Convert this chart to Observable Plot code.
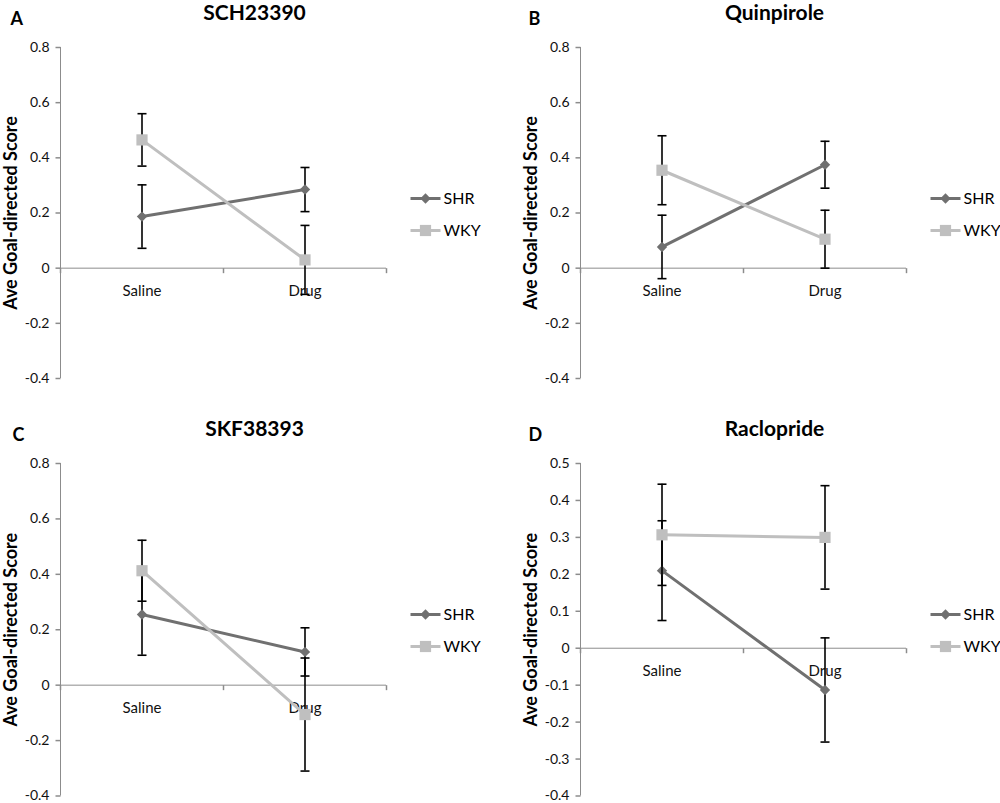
<!DOCTYPE html>
<html>
<head>
<meta charset="utf-8">
<script src="https://cdn.jsdelivr.net/npm/d3@7"></script>
<script src="https://cdn.jsdelivr.net/npm/@observablehq/plot@0.6"></script>
<style>
  html, body { margin: 0; padding: 0; background: #fff; }
  #root { position: relative; width: 1000px; height: 803px; overflow: hidden; background: #fff; }
  .panel { position: absolute; }
</style>
</head>
<body>
<div id="root"></div>
<script>
// ---- data ----
const conditions = ["Saline", "Drug"];
const seriesNames = ["SHR", "WKY"];
const letters = ["A", "B", "C", "D"];
const drugs = ["SCH23390", "Quinpirole", "SKF38393", "Raclopride"];
const shrMean = [[0.187, 0.285], [0.077, 0.375], [0.255, 0.120], [0.210, -0.113]];
const shrErr  = [[0.115, 0.080], [0.115, 0.085], [0.147, 0.087], [0.135, 0.141]];
const wkyMean = [[0.465, 0.030], [0.355, 0.105], [0.413, -0.106], [0.307, 0.300]];
const wkyErr  = [[0.095, 0.125], [0.125, 0.105], [0.110, 0.204], [0.137, 0.140]];
const yTicks = [
  [-0.4, -0.2, 0, 0.2, 0.4, 0.6, 0.8],
  [-0.4, -0.2, 0, 0.2, 0.4, 0.6, 0.8],
  [-0.4, -0.2, 0, 0.2, 0.4, 0.6, 0.8],
  [-0.4, -0.3, -0.2, -0.1, 0, 0.1, 0.2, 0.3, 0.4, 0.5]
];
const yLabel = "Ave Goal-directed Score";

// ---- styling / layout ----
const colors = {SHR: "#707070", WKY: "#bfbfbf"};
const axisColor = "#8c8c8c";
const layout = [
  {left: 0,   top: 0,   height: 400, mL: 60, mR: 114, mT: 47, mB: 22,  letterX: 10},
  {left: 500, top: 0,   height: 400, mL: 80, mR: 94,  mT: 47, mB: 22,  letterX: 28},
  {left: 0,   top: 400, height: 403, mL: 60, mR: 114, mT: 63, mB: 7.5, letterX: 12},
  {left: 500, top: 400, height: 403, mL: 80, mR: 94,  mT: 63, mB: 7.5, letterX: 28}
];

// custom symbols
const sym = {
  diamond: {draw(c) { const r = 5.2; c.moveTo(0, -r); c.lineTo(r, 0); c.lineTo(0, r); c.lineTo(-r, 0); c.closePath(); }},
  square: {draw(c) { const r = 5.6; c.moveTo(-r, -r); c.lineTo(r, -r); c.lineTo(r, r); c.lineTo(-r, r); c.closePath(); }},
  cap: {draw(c) { c.moveTo(-4.5, 0); c.lineTo(4.5, 0); }},
  leftTick: {draw(c) { c.moveTo(-5, 0); c.lineTo(0, 0); }},
  downTick: {draw(c) { c.moveTo(0, 0); c.lineTo(0, 5); }},
  legendLine: {draw(c) { c.moveTo(-15, 0); c.lineTo(15, 0); }}
};
const fmt = d => (Math.abs(d) < 1e-9 ? "0" : d.toFixed(1));

const root = document.getElementById("root");

drugs.forEach((drug, p) => {
  const L = layout[p];
  const rows = [];
  seriesNames.forEach(s => {
    const m = s === "SHR" ? shrMean[p] : wkyMean[p];
    const e = s === "SHR" ? shrErr[p] : wkyErr[p];
    conditions.forEach((c, i) => rows.push({series: s, cond: c, i, mean: m[i], err: e[i]}));
  });
  const n = conditions.length;
  const xDomain = [-0.5, n - 0.5];
  const bounds = d3.range(n + 1).map(i => i - 0.5);
  const yDomain = d3.extent(yTicks[p]);

  const seriesMarks = seriesNames.flatMap(s => {
    const d = rows.filter(r => r.series === s);
    return [
      Plot.line(d, {x: "i", y: "mean", stroke: colors[s], strokeWidth: 3}),
      Plot.ruleX(d, {x: "i", y1: r => r.mean - r.err, y2: r => r.mean + r.err, stroke: "#000", strokeWidth: 1.6}),
      Plot.dot(d, {x: "i", y: r => r.mean + r.err, symbol: sym.cap, stroke: "#000", strokeWidth: 1.6, fill: "none"}),
      Plot.dot(d, {x: "i", y: r => r.mean - r.err, symbol: sym.cap, stroke: "#000", strokeWidth: 1.6, fill: "none"}),
      Plot.dot(d, {x: "i", y: "mean", symbol: s === "SHR" ? sym.diamond : sym.square, fill: colors[s], stroke: "none"})
    ];
  });

  const legendMarks = seriesNames.flatMap((s, k) => [
    Plot.dot([s], {frameAnchor: "top-right", dx: 39, dy: 151 + 32 * k, symbol: sym.legendLine, stroke: colors[s], strokeWidth: 3, fill: "none"}),
    Plot.dot([s], {frameAnchor: "top-right", dx: 39, dy: 151 + 32 * k, symbol: s === "SHR" ? sym.diamond : sym.square, fill: colors[s], stroke: "none"}),
    Plot.text([s], {frameAnchor: "top-right", dx: 57, dy: 151 + 32 * k, text: d => d, textAnchor: "start", lineAnchor: "middle", fontSize: 16, fill: "#000"})
  ]);

  const chart = Plot.plot({
    width: 500,
    height: L.height,
    marginLeft: L.mL,
    marginRight: L.mR,
    marginTop: L.mT,
    marginBottom: L.mB,
    style: {fontFamily: "Lato, 'Open Sans', sans-serif", background: "#fff", overflow: "visible", color: "#000"},
    x: {domain: xDomain, axis: null},
    y: {domain: yDomain, axis: null},
    marks: [
      // axes
      Plot.ruleX([xDomain[0]], {stroke: axisColor, strokeWidth: 1}),
      Plot.ruleY([0], {stroke: axisColor, strokeWidth: 1}),
      Plot.dot(yTicks[p], {frameAnchor: "left", y: d => d, symbol: sym.leftTick, stroke: axisColor, fill: "none"}),
      Plot.text(yTicks[p], {frameAnchor: "left", y: d => d, text: fmt, textAnchor: "end", lineAnchor: "middle", dx: -11, fontSize: 14, fill: "#111"}),
      Plot.dot(bounds, {x: d => d, y: () => 0, symbol: sym.downTick, stroke: axisColor, fill: "none"}),
      Plot.text(conditions, {x: (d, i) => i, y: () => 0, text: d => d, dy: 23, fontSize: 15, fill: "#111"}),
      // data
      ...seriesMarks,
      // legend
      ...legendMarks,
      // titles / labels
      Plot.text([drug], {frameAnchor: "top", dx: 31, dy: -34, text: d => d, textAnchor: "middle", lineAnchor: "middle", fontSize: 21, fontWeight: "bold", fill: "#000"}),
      Plot.text([letters[p]], {frameAnchor: "top-left", dx: L.letterX - L.mL, dy: -28.5, text: d => d, textAnchor: "start", lineAnchor: "middle", fontSize: 18, fontWeight: "bold", fill: "#000"}),
      Plot.text([yLabel], {frameAnchor: "left", dx: -49, rotate: -90, text: d => d, textAnchor: "middle", lineAnchor: "middle", fontSize: 18, fontWeight: "bold", fill: "#000"})
    ]
  });
  const div = document.createElement("div");
  div.className = "panel";
  div.style.left = L.left + "px";
  div.style.top = L.top + "px";
  div.appendChild(chart);
  root.appendChild(div);
});
</script>
</body>
</html>
